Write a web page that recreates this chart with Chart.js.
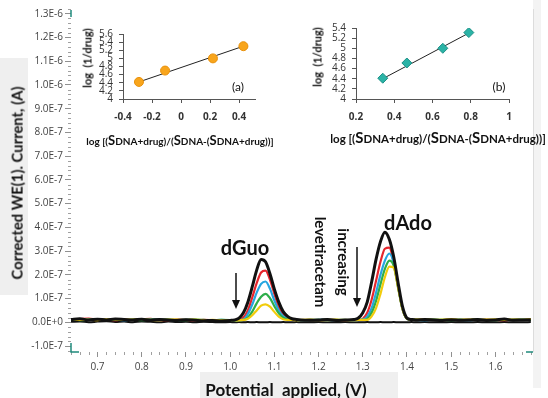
<!DOCTYPE html>
<html>
<head>
<meta charset="utf-8">
<script src="https://cdn.jsdelivr.net/npm/chart.js@4.4.1/dist/chart.umd.min.js"></script>
<style>
  body { margin: 0; background: #fff; }
  #wrap { position: relative; width: 548px; height: 398px; overflow: hidden; background: #fff; font-family: "Lato", "Open Sans", sans-serif; }
  canvas { position: absolute; }
  .box { position: absolute; background: #efefef; }
  .t { position: absolute; white-space: nowrap; color: #111; line-height: 1; }
  .c { transform: translate(-50%, -50%); }
  .up { transform: translate(-50%, -50%) rotate(-90deg); }
  .down { transform: translate(-50%, -50%) rotate(90deg); }
  .big { font-size: 1.3em; }
</style>
</head>
<body>
<div id="wrap">
  <div class="box" style="left:533px;top:0;width:8px;height:388px;background:#f3f3f3"></div>
  <div class="box" style="left:0;top:58px;width:28px;height:237px"></div>
  <div class="box" style="left:200px;top:372px;width:198px;height:26px"></div>
  <canvas id="mainChart" width="548" height="398" style="left:0;top:0"></canvas>
  <canvas id="insetA" width="195" height="130" style="left:75px;top:22px"></canvas>
  <canvas id="insetB" width="230" height="120" style="left:300px;top:16px"></canvas>

  <div class="t up" style="left:17px;top:183px;font-size:14.8px;font-weight:700">Corrected WE(1). Current, (A)</div>
  <div class="t c" style="left:286px;top:389px;font-size:17px;font-weight:700">Potential&nbsp; applied, (V)</div>

  <div class="t c" style="left:245px;top:247px;font-size:20px;font-weight:700">dGuo</div>
  <div class="t c" style="left:408px;top:222px;font-size:20px;font-weight:700">dAdo</div>
  <div class="t down" style="left:320px;top:262px;font-size:15px;font-weight:700">levetiracetam</div>
  <div class="t down" style="left:343px;top:262px;font-size:15px;font-weight:700">increasing</div>

  <div class="t up" style="left:87px;top:58px;font-size:11px;font-weight:700">log&nbsp; (1/drug)</div>
  <div class="t c" style="left:180px;top:140px;font-size:10px;font-weight:700">log [(<span class="big">S</span>DNA+drug)/(<span class="big">S</span>DNA-(<span class="big">S</span>DNA+drug))]</div>
  <div class="t c" style="left:238px;top:87px;font-size:12px">(a)</div>

  <div class="t up" style="left:317px;top:57px;font-size:11px;font-weight:700">log&nbsp; (1/drug)</div>
  <div class="t c" style="left:438px;top:137px;font-size:11.5px;font-weight:700">log [(<span class="big">S</span>DNA+drug)/(<span class="big">S</span>DNA-(<span class="big">S</span>DNA+drug))]</div>
  <div class="t c" style="left:499px;top:87px;font-size:12px">(b)</div>

  <svg width="548" height="398" style="position:absolute;left:0;top:0">
    <line x1="236" y1="273" x2="236" y2="301" stroke="#111" stroke-width="1.5"/>
    <polygon points="232,300 240,300 236,309" fill="#111"/>
    <line x1="357" y1="247" x2="357" y2="299" stroke="#111" stroke-width="1.5"/>
    <polygon points="353,298 361,298 357,307" fill="#111"/>
  </svg>
</div>

<script>
// potentials (V)
const potential = [
  0.64, 0.66, 0.68, 0.70, 0.72, 0.74, 0.76, 0.78, 0.80, 0.82, 0.84, 0.86, 0.88, 0.90, 0.92, 0.94, 0.96, 0.98, 1.00,
  1.01, 1.02, 1.03, 1.04, 1.05, 1.06, 1.07, 1.08, 1.09, 1.10, 1.11, 1.12, 1.13, 1.14, 1.15, 1.16,
  1.18, 1.20, 1.22, 1.24, 1.26, 1.28,
  1.29, 1.30, 1.31, 1.32, 1.33, 1.34, 1.35, 1.36, 1.37, 1.38, 1.39, 1.40, 1.41, 1.42,
  1.44, 1.46, 1.48, 1.50, 1.52, 1.54, 1.56, 1.58, 1.60, 1.62, 1.64, 1.66, 1.68
];

// currents, in units of 1E-7 A
const blank = [
  0.02, 0.04, 0.00, 0.03, 0.05, 0.01, 0.03, 0.00, 0.04, 0.02, 0.00, 0.03, 0.01, 0.02, 0.00, 0.02, 0.01, 0.00, 0.01,
  0.00, 0.01, 0.00, 0.01, 0.00, 0.01, 0.00, 0.00, 0.01, 0.00, 0.00, 0.01, 0.00, 0.00, 0.01, 0.00,
  0.00, 0.01, 0.00, 0.00, 0.01, 0.00,
  0.00, 0.00, 0.01, 0.00, 0.00, 0.01, 0.00, 0.00, 0.01, 0.00, 0.00, 0.00, 0.01, 0.00,
  0.01, 0.00, 0.00, 0.01, 0.00, 0.00, 0.01, 0.00, 0.00, 0.01, 0.00, 0.00, 0.01
];
const conc0 = [
  0.12, 0.15, 0.10, 0.13, 0.10, 0.14, 0.12, 0.10, 0.13, 0.09, 0.12, 0.10, 0.08, 0.11, 0.09, 0.07, 0.08, 0.06, 0.08,
  0.10, 0.18, 0.40, 0.85, 1.50, 2.20, 2.65, 2.55, 2.05, 1.40, 0.85, 0.45, 0.25, 0.15, 0.12, 0.10,
  0.09, 0.10, 0.12, 0.08, 0.10, 0.12,
  0.18, 0.40, 0.85, 1.70, 2.65, 3.40, 3.80, 3.50, 2.75, 1.65, 0.65, 0.18, 0.12, 0.10,
  0.12, 0.10, 0.08, 0.11, 0.09, 0.10, 0.12, 0.08, 0.10, 0.14, 0.09, 0.10, 0.11
];
const conc1 = [
  0.10, 0.13, 0.16, 0.11, 0.12, 0.09, 0.14, 0.10, 0.12, 0.15, 0.10, 0.09, 0.12, 0.10, 0.08, 0.10, 0.09, 0.08, 0.07,
  0.08, 0.10, 0.20, 0.50, 1.05, 1.65, 2.10, 2.18, 1.80, 1.20, 0.65, 0.32, 0.18, 0.12, 0.10, 0.09,
  0.10, 0.09, 0.11, 0.10, 0.08, 0.10,
  0.10, 0.15, 0.40, 0.95, 1.75, 2.55, 3.10, 3.15, 2.50, 1.50, 0.55, 0.15, 0.10, 0.12,
  0.10, 0.11, 0.09, 0.12, 0.10, 0.10, 0.11, 0.13, 0.10, 0.09, 0.12, 0.10, 0.12
];
const conc2 = [
  0.11, 0.10, 0.14, 0.12, 0.10, 0.11, 0.09, 0.12, 0.10, 0.13, 0.11, 0.10, 0.09, 0.12, 0.10, 0.09, 0.08, 0.10, 0.08,
  0.08, 0.09, 0.12, 0.35, 0.75, 1.25, 1.62, 1.72, 1.42, 0.92, 0.50, 0.25, 0.14, 0.11, 0.10, 0.09,
  0.10, 0.11, 0.09, 0.10, 0.10, 0.09,
  0.10, 0.12, 0.25, 0.60, 1.25, 2.00, 2.60, 2.90, 2.50, 1.50, 0.55, 0.15, 0.11, 0.10,
  0.09, 0.11, 0.10, 0.12, 0.10, 0.09, 0.11, 0.10, 0.12, 0.10, 0.11, 0.10, 0.10
];
const conc3 = [
  0.12, 0.09, 0.11, 0.13, 0.10, 0.12, 0.10, 0.11, 0.09, 0.12, 0.10, 0.11, 0.10, 0.09, 0.11, 0.10, 0.09, 0.10, 0.09,
  0.08, 0.09, 0.10, 0.20, 0.45, 0.80, 1.08, 1.20, 1.02, 0.68, 0.38, 0.20, 0.13, 0.10, 0.10, 0.09,
  0.10, 0.09, 0.11, 0.10, 0.09, 0.10,
  0.10, 0.10, 0.15, 0.40, 0.90, 1.60, 2.25, 2.60, 2.38, 1.45, 0.55, 0.15, 0.10, 0.11,
  0.10, 0.12, 0.10, 0.09, 0.11, 0.10, 0.12, 0.10, 0.09, 0.11, 0.10, 0.12, 0.10
];
const conc4 = [
  0.14, 0.10, 0.12, 0.09, 0.13, 0.11, 0.10, 0.12, 0.14, 0.10, 0.09, 0.12, 0.11, 0.10, 0.12, 0.09, 0.10, 0.08, 0.09,
  0.09, 0.08, 0.10, 0.15, 0.30, 0.50, 0.70, 0.76, 0.66, 0.44, 0.24, 0.13, 0.10, 0.10, 0.09, 0.10,
  0.11, 0.10, 0.09, 0.12, 0.10, 0.09,
  0.10, 0.10, 0.10, 0.25, 0.60, 1.20, 1.90, 2.35, 2.30, 1.45, 0.55, 0.15, 0.10, 0.12,
  0.12, 0.10, 0.11, 0.14, 0.10, 0.12, 0.10, 0.11, 0.13, 0.10, 0.12, 0.10, 0.14
];

// tick values
const xTicks = [0.7, 0.8, 0.9, 1.0, 1.1, 1.2, 1.3, 1.4, 1.5, 1.6];
const yTicks = [-1, 0, 1, 2, 3, 4, 5, 6, 7, 8, 9, 10, 11, 12, 13];

// inset (a) dGuo, inset (b) dAdo
const xA = [-0.29, -0.11, 0.22, 0.43];
const yA = [4.42, 4.70, 5.00, 5.30];
const fitXA = [-0.29, 0.43];
const fitYA = [4.42, 5.30];
const xTicksA = [-0.4, -0.2, 0, 0.2, 0.4];
const yTicksA = [4, 4.2, 4.4, 4.6, 4.8, 5, 5.2, 5.4, 5.6];

const xB = [0.34, 0.466, 0.654, 0.79];
const yB = [4.41, 4.71, 5.00, 5.31];
const fitXB = [0.34, 0.79];
const fitYB = [4.40, 5.30];
const xTicksB = [0.2, 0.4, 0.6, 0.8, 1];
const yTicksB = [4, 4.2, 4.4, 4.6, 4.8, 5, 5.2, 5.4];

const xy = (xs, ys) => xs.map((v, i) => ({ x: v, y: ys[i] }));
const setTicks = list => scale => { scale.ticks = list.map(v => ({ value: v })); };

function yLabel(v) {
  const r = Math.round(v * 10) / 10;
  if (r === 0) return "0.0E+0";
  if (Math.abs(r) >= 10) return (r / 10).toFixed(1) + "E-6";
  return r.toFixed(1) + "E-7";
}

// minor ticks + little teal cursor marks
const minorTicks = {
  id: "minorTicks",
  afterDraw(chart) {
    const { ctx, chartArea: a, scales: { x, y } } = chart;
    ctx.save();
    ctx.strokeStyle = "#a0a0a0";
    ctx.lineWidth = 1;
    ctx.beginPath();
    for (let i = 32; i <= 84; i++) {
      if (i % 5 === 0) continue;
      const px = Math.round(x.getPixelForValue(i * 0.02)) + 0.5;
      ctx.moveTo(px, a.bottom);
      ctx.lineTo(px, a.bottom + 3);
    }
    for (let i = -6; i <= 66; i++) {
      if (i % 5 === 0) continue;
      const py = Math.round(y.getPixelForValue(i * 0.2)) + 0.5;
      ctx.moveTo(a.left - 3, py);
      ctx.lineTo(a.left, py);
    }
    ctx.stroke();
    ctx.strokeStyle = "#1f8a7c";
    ctx.lineWidth = 1.5;
    ctx.beginPath();
    ctx.moveTo(a.left, a.top + 1); ctx.lineTo(a.left, a.top + 8);
    ctx.moveTo(a.left, a.bottom - 9); ctx.lineTo(a.left, a.bottom); ctx.lineTo(a.left + 8, a.bottom);
    ctx.moveTo(a.right - 7, a.bottom); ctx.lineTo(a.right, a.bottom);
    ctx.stroke();
    ctx.strokeStyle = "#dcdcdc";
    ctx.lineWidth = 1;
    ctx.beginPath();
    ctx.moveTo(a.right + 0.5, a.top); ctx.lineTo(a.right + 0.5, a.bottom);
    ctx.stroke();
    ctx.restore();
  }
};

function trace(label, values, color, width) {
  return {
    label,
    data: xy(potential, values),
    borderColor: color,
    backgroundColor: color,
    borderWidth: width,
    pointRadius: 0,
    cubicInterpolationMode: "monotone"
  };
}

const tickFont = { family: "'Open Sans', sans-serif", size: 10 };

new Chart(document.getElementById("mainChart"), {
  type: "line",
  data: {
    datasets: [
      trace("0", conc0, "#111111", 3),
      trace("4", conc4, "#f2cc0c", 2.2),
      trace("3", conc3, "#2eae4b", 2.2),
      trace("2", conc2, "#27a6e0", 2.2),
      trace("1", conc1, "#e5262d", 2.2),
      trace("blank", blank, "#111111", 2)
    ]
  },
  options: {
    responsive: false,
    animation: false,
    layout: { padding: { top: 9, right: 15, left: 0, bottom: 0 } },
    plugins: { legend: { display: false }, tooltip: { enabled: false } },
    scales: {
      x: {
        type: "linear",
        min: 0.64,
        max: 1.685,
        afterBuildTicks: setTicks(xTicks),
        afterFit: s => { s.height = 46; },
        border: { display: false },
        grid: { drawOnChartArea: false, tickLength: 5, tickColor: "#909090" },
        ticks: {
          padding: 4,
          maxRotation: 0,
          autoSkip: false,
          color: "#444",
          font: tickFont,
          callback: v => v.toFixed(1)
        }
      },
      y: {
        min: -1.25,
        max: 13.2,
        afterBuildTicks: setTicks(yTicks),
        afterFit: s => { s.width = 71; },
        border: { display: false },
        grid: { drawOnChartArea: false, tickLength: 6, tickColor: "#909090" },
        ticks: {
          padding: 2,
          autoSkip: false,
          color: "#444",
          font: tickFont,
          callback: v => yLabel(v)
        }
      }
    }
  },
  plugins: [minorTicks]
});

function insetOptions(xr, yr, xt, yt, pad, yWidth, xHeight) {
  const axisColor = "#555";
  const fmt = v => {
    const r = Math.round(v * 10) / 10;
    return Number.isInteger(r) ? String(r) : r.toFixed(1);
  };
  return {
    responsive: false,
    animation: false,
    layout: { padding: pad },
    plugins: { legend: { display: false }, tooltip: { enabled: false } },
    scales: {
      x: {
        type: "linear",
        min: xr[0],
        max: xr[1],
        afterBuildTicks: setTicks(xt),
        afterFit: s => { s.height = xHeight; },
        border: { color: axisColor },
        grid: { drawOnChartArea: false, tickLength: 4, tickColor: axisColor },
        ticks: {
          padding: 8,
          maxRotation: 0,
          autoSkip: false,
          color: "#333",
          font: { family: "'Open Sans', sans-serif", size: 10, weight: "bold" },
          callback: fmt
        }
      },
      y: {
        min: yr[0],
        max: yr[1],
        afterBuildTicks: setTicks(yt),
        afterFit: s => { s.width = yWidth; },
        border: { color: axisColor },
        grid: { drawOnChartArea: false, tickLength: 4, tickColor: axisColor },
        ticks: {
          padding: 6,
          autoSkip: false,
          color: "#333",
          font: { family: "'Open Sans', sans-serif", size: 10 },
          callback: fmt
        }
      }
    }
  };
}

new Chart(document.getElementById("insetA"), {
  type: "scatter",
  data: {
    datasets: [
      {
        data: xy(xA, yA),
        pointStyle: "circle",
        pointRadius: 4.5,
        backgroundColor: "#f8a51c",
        borderColor: "#e8900a",
        borderWidth: 1
      },
      {
        type: "line",
        data: xy(fitXA, fitYA),
        borderColor: "#222",
        borderWidth: 1,
        pointRadius: 0
      }
    ]
  },
  options: insetOptions([-0.4, 0.51], [4, 5.6], xTicksA, yTicksA, { top: 8, right: 15, left: 0, bottom: 0 }, 48, 53)
});

new Chart(document.getElementById("insetB"), {
  type: "scatter",
  data: {
    datasets: [
      {
        data: xy(xB, yB),
        pointStyle: "rectRot",
        pointRadius: 5,
        backgroundColor: "#2bb3a6",
        borderColor: "#1c8f86",
        borderWidth: 1
      },
      {
        type: "line",
        data: xy(fitXB, fitYB),
        borderColor: "#222",
        borderWidth: 1,
        pointRadius: 0
      }
    ]
  },
  options: insetOptions([0.2, 1.0], [4, 5.4], xTicksB, yTicksB, { top: 8, right: 21, left: 0, bottom: 0 }, 56, 37)
});
</script>
</body>
</html>
